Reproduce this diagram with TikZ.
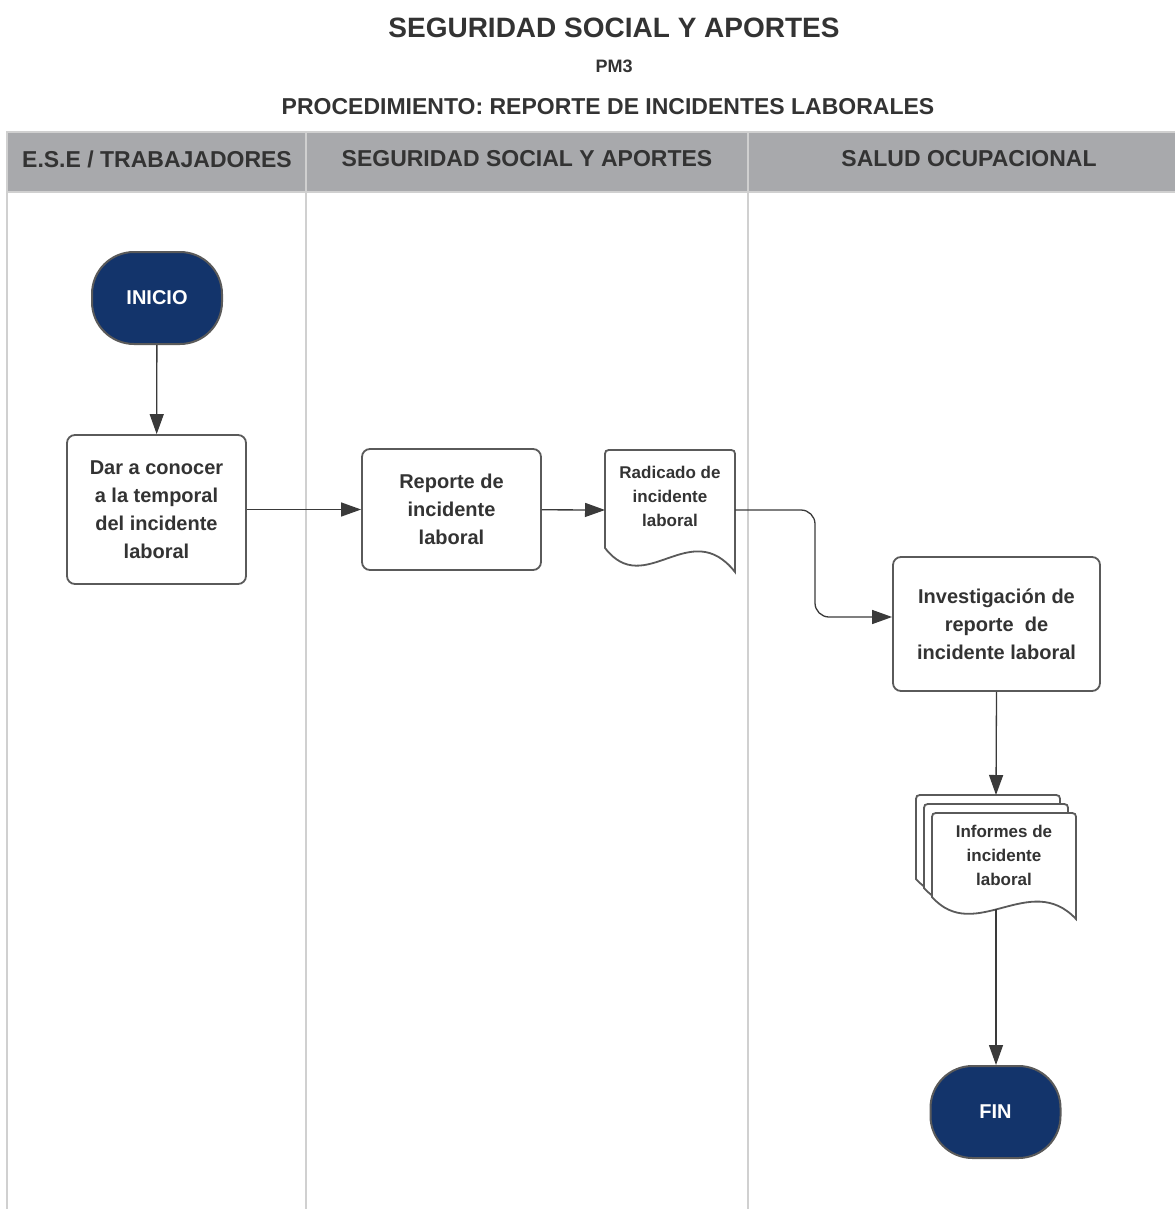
\documentclass[tikz,border=0pt]{standalone}
\usepackage{fontspec}
\setmainfont{Liberation Sans}
\usetikzlibrary{arrows.meta,calc}

\definecolor{txt}{HTML}{333333}
\definecolor{navy}{HTML}{13346B}
\definecolor{edge}{HTML}{5A5A5A}
\definecolor{band}{HTML}{A8A9AC}
\definecolor{laneline}{HTML}{D0D0D0}
\definecolor{wire}{HTML}{3A3A3A}

\newcommand{\fs}[2]{\fontsize{#1}{#2}\selectfont}

\begin{document}
\begin{tikzpicture}[x=1pt,y=-1pt,
  every node/.style={text=txt, font=\bfseries},
  title/.style={font=\bfseries\fs{28}{32}, inner sep=0},
  lanehead/.style={font=\bfseries\fs{23}{28}, inner sep=0},
  procbox/.style={draw=edge, line width=1.8pt, rounded corners=8pt, fill=white,
    align=center, font=\bfseries\fs{20}{28}, inner sep=0},
  terminal/.style={draw=edge, line width=2pt, rounded corners=42pt, fill=navy,
    text=white, font=\bfseries\fs{20}{24}, minimum width=130pt, minimum height=92pt, inner sep=0},
  doctext/.style={align=center, font=\bfseries\fs{17}{24}, inner sep=0},
  docshape/.style={draw=edge, line width=1.8pt, fill=white},
  flow/.style={draw=wire, line width=1.3pt, -{Triangle[length=20pt,width=14pt]}}
]
\useasboundingbox (0,0) rectangle (1175,1209);

% titles
\node[title] (t1) at (614,28) {SEGURIDAD SOCIAL Y APORTES};
\node[title, font=\bfseries\fs{18}{20}] (t2) at (614,66) {PM3};
\node[title, font=\bfseries\fs{23}{26}] (t3) at (608,107) {PROCEDIMIENTO: REPORTE DE INCIDENTES LABORALES};

% swimlanes
\fill[band] (7,132) rectangle (1175,192);
\draw[laneline, line width=2pt] (1175,132) -- (7,132) -- (7,1209);
\draw[laneline, line width=2pt] (7,192) -- (1175,192);
\draw[laneline, line width=2pt] (306,132) -- (306,1209);
\draw[laneline, line width=2pt] (748,132) -- (748,1209);
\node[lanehead] (h1) at (157,159) {E.S.E / TRABAJADORES};
\node[lanehead] (h2) at (527,159) {SEGURIDAD SOCIAL Y APORTES};
\node[lanehead] (h3) at (969,159) {SALUD OCUPACIONAL};

% process nodes
\node[terminal] (inicio) at (157,298) {INICIO};
\node[procbox, minimum width=179pt, minimum height=149pt] (dar) at (156.5,509.5)
  {Dar a conocer\\a la temporal\\del incidente\\laboral};
\node[procbox, minimum width=179pt, minimum height=121pt] (reporte) at (451.5,509.5)
  {Reporte de\\incidente\\laboral};

% document: radicado
\draw[docshape] (605,548) -- (605,458) .. controls (605,450) .. (613,450)
  -- (727,450) .. controls (735,450) .. (735,458) -- (735,572)
  .. controls (690,515) and (645,600) .. (605,548) -- cycle;
\node[doctext] (radicado) at (670,496) {Radicado de\\incidente\\laboral};
\coordinate (radin) at (605,510);
\coordinate (radout) at (735,510);

\node[procbox, minimum width=207pt, minimum height=134pt] (invest) at (996.5,624)
  {Investigación de\\reporte\ \ de\\incidente laboral};

% multi-document: informes
\foreach \dx/\dy in {-16/-18, -8/-9, 0/0}{
  \draw[docshape] (932+\dx,897+\dy) -- (932+\dx,821+\dy) .. controls (932+\dx,813+\dy) .. (940+\dx,813+\dy)
    -- (1068+\dx,813+\dy) .. controls (1076+\dx,813+\dy) .. (1076+\dx,821+\dy) -- (1076+\dx,919+\dy)
    .. controls (1030+\dx,870+\dy) and (975+\dx,945+\dy) .. (932+\dx,897+\dy) -- cycle;
}
\node[doctext] (informes) at (1004,855) {Informes de\\incidente\\laboral};
\coordinate (infbot) at (996,909);

\node[terminal] (fin) at (995.5,1112) {FIN};

% connectors
\draw[flow] (inicio) -- (dar);
\draw[flow] (dar) -- (reporte);
\draw[flow] (reporte) -- (radin);
\draw[flow, rounded corners=14pt] (radout) -- (815,510) -- (815,617) -- (invest.west |- 0,617);
\draw[flow] (invest.south) -- (996,795);
\draw[flow] (infbot) -- (fin.north -| infbot);
\end{tikzpicture}
\end{document}
